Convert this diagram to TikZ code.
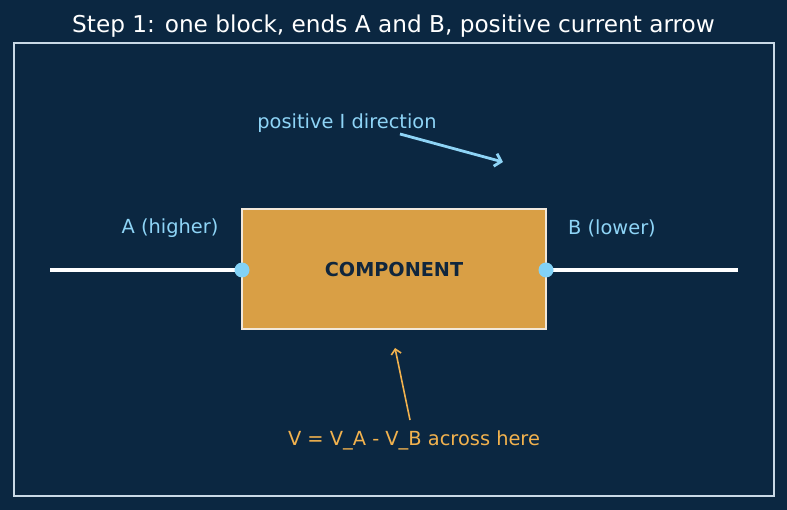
\documentclass[tikz,border=0pt]{standalone}
\usepackage{fontspec}
\setmainfont{DejaVu Sans}
\usetikzlibrary{calc,arrows.meta}
\definecolor{bgnavy}{HTML}{0B2741}
\definecolor{framegray}{HTML}{C9D9E6}
\definecolor{blockgold}{HTML}{D99F45}
\definecolor{blockedge}{HTML}{F2E8DA}
\definecolor{termblue}{HTML}{82D2F7}
\definecolor{labelblue}{HTML}{8ED4F6}
\definecolor{voltorange}{HTML}{F2B24E}
\definecolor{textnavy}{HTML}{10263D}
\newcommand*{\wirey}{270}
\newcommand*{\blkl }{242}
\newcommand*{\blkr }{546}
\newcommand*{\blkt }{209}
\newcommand*{\blkb }{329}

\begin{document}
\begin{tikzpicture}[x=1pt, y=-1pt, font=\fontsize{19.4}{22}\selectfont,
    terminal/.style = {circle, fill=termblue, inner sep=0pt, minimum size=15pt},
    endlabel/.style = {text=labelblue}]
        \fill [bgnavy] (0,0) rectangle (787,510);
        \useasboundingbox (0,0) rectangle (787,510);
        \draw [framegray, line width=1.3pt] (14,43) rectangle (774,496);
        \node [text=white, font=\fontsize{23.2}{26}\selectfont] (title) at (393.5,26) {Step 1: one block, ends A and B, positive current arrow};
        % wire and block
        \coordinate (wireL) at (50,\wirey);
        \coordinate (wireR) at (738,\wirey);
        \draw [white, line width=3.2pt] (wireL) -- (wireR);
        \draw [fill=blockgold, draw=blockedge, line width=2.2pt] (\blkl,\blkt) rectangle (\blkr,\blkb);
        \node [text=textnavy, font=\fontsize{19.2}{22}\selectfont\bfseries] (comp) at ($(\blkl,\wirey)!0.5!(\blkr,\wirey)$) {COMPONENT};
        \node [terminal] (termA) at (\blkl,\wirey) {};
        \node [terminal] (termB) at (\blkr,\wirey) {};
        \node [endlabel] (labA) at (170,228) {A (higher)};
        \node [endlabel] (labB) at (612,228) {B (lower)};
        % current direction
        \node [endlabel] (curtext) at (347,123) {positive I direction};
        \coordinate (curtail) at (400,134);
        \coordinate (curhead) at (503,162);
        \draw [-{Straight Barb[length=6pt,width=13pt]}, labelblue, line width=2.8pt] (curtail) -- (curhead);
        % voltage note
        \node [text=voltorange] (volttext) at (414,440) {V = V\_A - V\_B across here};
        \coordinate (volttail) at (410,420);
        \coordinate (volthead) at (395,348);
        \draw [-{Straight Barb[length=5pt,width=10pt]}, voltorange, line width=1.6pt] (volttail) -- (volthead);
    \end{tikzpicture}
\end{document}
